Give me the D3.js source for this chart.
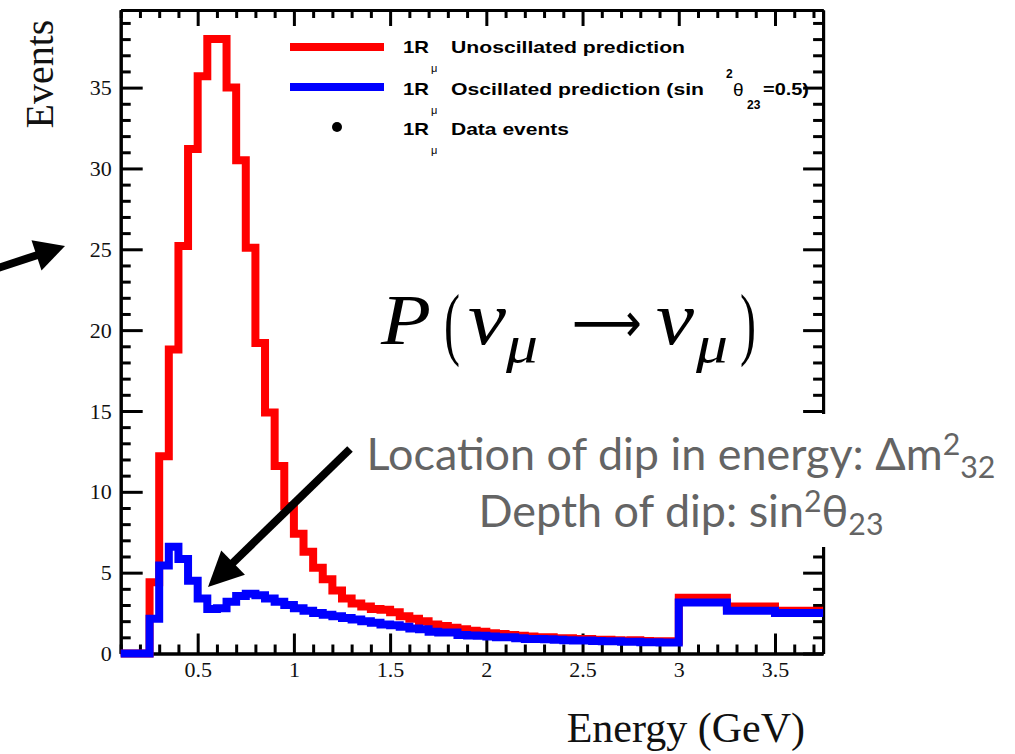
<!DOCTYPE html>
<html><head><meta charset="utf-8">
<script src="https://cdn.jsdelivr.net/npm/d3@7"></script>
<style>html,body{margin:0;padding:0;background:#fff;} svg{display:block;}</style>
</head><body>
<svg id="c" width="1015" height="754"></svg>
<script>
// ---------------- data ----------------
const binLowEdges = [0.10,0.15,0.20,0.25,0.30,0.35,0.40,0.45,0.50,0.55,0.60,0.65,0.70,0.75,0.80,0.85,0.90,0.95,
  1.00,1.05,1.10,1.15,1.20,1.25,1.30,1.35,1.40,1.45,1.50,1.55,1.60,1.65,1.70,1.75,1.80,1.85,1.90,1.95,
  2.00,2.05,2.10,2.15,2.20,2.25,2.30,2.35,2.40,2.45,2.50,2.55,2.60,2.65,2.70,2.75,2.80,2.85,2.90,2.95,
  3.00,3.25,3.50];
const binHighEdge = 3.75;
const unoscillated = [0,0,0,4.4,12.2,18.8,25.2,31.2,35.7,38.0,38.0,35.0,30.5,25.1,19.2,14.9,11.6,9.1,
  7.4,6.3,5.3,4.6,3.9,3.4,3.1,2.9,2.75,2.7,2.55,2.3,2.15,2.0,1.8,1.7,1.6,1.5,1.4,1.35,
  1.25,1.2,1.15,1.1,1.05,1.0,1.0,0.95,0.95,0.9,0.9,0.85,0.85,0.82,0.8,0.82,0.78,0.76,0.75,0.75,
  3.45,2.9,2.65];
const oscillated = [0,0,0,2.15,5.45,6.6,5.85,4.5,3.4,2.75,2.8,3.2,3.55,3.7,3.6,3.4,3.2,3.0,
  2.8,2.65,2.5,2.4,2.3,2.2,2.1,2.0,1.9,1.8,1.75,1.65,1.55,1.5,1.35,1.3,1.3,1.15,1.12,1.1,
  1.05,1.0,1.0,0.95,0.9,0.9,0.88,0.85,0.82,0.8,0.8,0.78,0.75,0.75,0.72,0.72,0.7,0.7,0.68,0.68,
  3.15,2.65,2.5];
const xTickValues = [0.5,1,1.5,2,2.5,3,3.5];
const xTickLabels = ["0.5","1","1.5","2","2.5","3","3.5"];
const yTickValues = [0,5,10,15,20,25,30,35];
const yTickLabels = ["0","5","10","15","20","25","30","35"];
const legendLabels = ["Unoscillated prediction","Oscillated prediction (sin","Data events"];

// ---------------- layout ----------------
const svg = d3.select("#c");
const X0 = 120.7, X1 = 823.1, Y0 = 653.5, Y1 = 10;
const x = d3.scaleLinear().domain([0.1, 3.75]).range([X0, X1]);
const y = d3.scaleLinear().domain([0, 39.8]).range([Y0, Y1]);
const serif = "'Liberation Serif','Times New Roman',serif";
const sans = "'Liberation Sans',Arial,Helvetica,sans-serif";

function styleAxis(g){
  g.selectAll("path,line").attr("stroke","#000").attr("stroke-width",3);
  g.selectAll("text").attr("font-family",serif).attr("font-size",22).attr("fill","#111");
}
const xMinor = x.ticks(40).filter(v => !xTickValues.some(m => Math.abs(m - v) < 1e-6));
const yMinor = y.ticks(40).filter(v => v % 5 !== 0);

// bottom
svg.append("g").attr("transform",`translate(0,${Y0})`)
  .call(d3.axisBottom(x).tickValues(xMinor).tickSize(-9).tickSizeOuter(0).tickFormat(""))
  .call(styleAxis);
svg.append("g").attr("transform",`translate(0,${Y0})`)
  .call(d3.axisBottom(x).tickValues(xTickValues).tickSize(-20).tickSizeOuter(0).tickPadding(8)
    .tickFormat((d,i)=>xTickLabels[i]))
  .call(styleAxis);
// top
svg.append("g").attr("transform",`translate(0,${Y1})`)
  .call(d3.axisTop(x).tickValues(xMinor).tickSize(-8).tickSizeOuter(0).tickFormat(""))
  .call(styleAxis);
svg.append("g").attr("transform",`translate(0,${Y1})`)
  .call(d3.axisTop(x).tickValues(xTickValues).tickSize(-16).tickSizeOuter(0).tickFormat(""))
  .call(styleAxis);
// left
svg.append("g").attr("transform",`translate(${X0},0)`)
  .call(d3.axisLeft(y).tickValues(yMinor).tickSize(-10).tickSizeOuter(0).tickFormat(""))
  .call(styleAxis);
svg.append("g").attr("transform",`translate(${X0},0)`)
  .call(d3.axisLeft(y).tickValues(yTickValues).tickSize(-22).tickSizeOuter(0).tickPadding(9)
    .tickFormat((d,i)=>yTickLabels[i]))
  .call(styleAxis);
// right
svg.append("g").attr("transform",`translate(${X1},0)`)
  .call(d3.axisRight(y).tickValues(yMinor).tickSize(-10).tickSizeOuter(0).tickFormat(""))
  .call(styleAxis);
svg.append("g").attr("transform",`translate(${X1},0)`)
  .call(d3.axisRight(y).tickValues(yTickValues).tickSize(-20).tickSizeOuter(0).tickFormat(""))
  .call(styleAxis);

// ---------------- histograms ----------------
const line = d3.line().x(d => x(d[0])).y(d => y(d[1])).curve(d3.curveStepAfter);
function pts(vals){
  const p = binLowEdges.map((e,i) => [e, vals[i]]);
  p.push([binHighEdge, vals[vals.length-1]]);
  return p;
}
svg.append("path").attr("d", line(pts(unoscillated)))
  .attr("fill","none").attr("stroke","#ff0000").attr("stroke-width",8).attr("stroke-linejoin","miter");
svg.append("path").attr("d", line(pts(oscillated)))
  .attr("fill","none").attr("stroke","#0000ff").attr("stroke-width",8).attr("stroke-linejoin","miter");

// ---------------- axis titles ----------------
svg.append("text").attr("transform","translate(53,74) rotate(-90)")
  .attr("text-anchor","middle").attr("font-family",serif).attr("font-size",40).attr("fill","#111")
  .text("Events");
svg.append("text").attr("x",805).attr("y",742).attr("text-anchor","end")
  .attr("font-family",serif).attr("font-size",42).attr("fill","#111").text("Energy (GeV)");

// ---------------- legend ----------------
const leg = svg.append("g");
leg.append("line").attr("x1",290).attr("x2",384).attr("y1",47).attr("y2",47)
  .attr("stroke","#ff0000").attr("stroke-width",8);
leg.append("line").attr("x1",290).attr("x2",384).attr("y1",87).attr("y2",87)
  .attr("stroke","#0000ff").attr("stroke-width",8);
leg.append("circle").attr("cx",337).attr("cy",127).attr("r",5).attr("fill","#000");
const rowBase = [53,95,135];
const rowWidth = [234,253,118];
rowBase.forEach((b,i) => {
  leg.append("text").attr("x",403).attr("y",b).attr("font-family",sans).attr("font-weight","bold")
    .attr("font-size",17).attr("textLength",26).attr("lengthAdjust","spacingAndGlyphs").text("1R");
  leg.append("text").attr("x",431).attr("y",b+19).attr("font-family",sans)
    .attr("font-size",11).text("μ");
  leg.append("text").attr("x",451).attr("y",b).attr("font-family",sans).attr("font-weight","bold")
    .attr("font-size",17).attr("textLength",rowWidth[i]).attr("lengthAdjust","spacingAndGlyphs")
    .text(legendLabels[i]);
});
leg.append("text").attr("x",726).attr("y",78).attr("font-family",sans).attr("font-weight","bold")
  .attr("font-size",12).text("2");
leg.append("text").attr("x",733).attr("y",96).attr("font-family",sans)
  .attr("font-size",19).text("θ");
leg.append("text").attr("x",747).attr("y",109).attr("font-family",sans).attr("font-weight","bold")
  .attr("font-size",12).text("23");
leg.append("text").attr("x",763).attr("y",95).attr("font-family",sans).attr("font-weight","bold")
  .attr("font-size",17).attr("textLength",46).attr("lengthAdjust","spacingAndGlyphs").text("=0.5)");

// ---------------- formula ----------------
const fm = svg.append("g").attr("font-family",serif).attr("fill","#000");
function ft(xp, yp, size, txt, italic, len, fam){
  const t = fm.append("text").attr("x",xp).attr("y",yp).attr("font-size",size).text(txt);
  if (italic) t.attr("font-style","italic");
  if (len) t.attr("textLength",len).attr("lengthAdjust","spacingAndGlyphs");
  if (fam) t.attr("font-family",fam);
  return t;
}
ft(381, 344, 72, "P", true, 50);
ft(444, 350, 80, "(", false, 16);
ft(468, 344, 76, "ν", true, 38);
ft(506, 362, 52, "μ", true, 32);
ft(572, 342, 56, "⟶", false, 70, "'DejaVu Sans',sans-serif");
ft(656, 344, 76, "ν", true, 38);
ft(696, 362, 52, "μ", true, 32);
ft(740, 350, 80, ")", false, 16);

// ---------------- annotation ----------------
svg.append("rect").attr("x",356).attr("y",414).attr("width",659).attr("height",133).attr("fill","#fff");
const gray = "#646464";
const annFont = "Lato,'Open Sans',sans-serif";
function annLine(yb, main, sup1, mid, sub){
  const t = svg.append("text").attr("x",681).attr("y",yb).attr("text-anchor","middle")
    .attr("font-family",annFont).attr("font-size",40).attr("fill",gray);
  t.append("tspan").text(main);
  t.append("tspan").attr("font-size",27).attr("dy",-15).text(sup1);
  if (mid) t.append("tspan").attr("dy",15).text(mid);
  t.append("tspan").attr("font-size",27).attr("dy", mid ? 8 : 23).text(sub);
  return t;
}
const a1 = annLine(470, "Location of dip in energy: Δm", "2", null, "32");
const a2 = annLine(527, "Depth of dip: sin", "2", "θ", "23");
const w1 = a1.node().getComputedTextLength();
const k = 629 / w1;
[a1,a2].forEach(t => {
  t.attr("font-size", 40*k);
  t.selectAll("tspan").each(function(){
    const s = d3.select(this);
    if (s.attr("font-size")) s.attr("font-size", 27*k);
  });
});

// ---------------- arrows ----------------
function arrow(x1,y1,x2,y2,len,half){
  const dx = x2-x1, dy = y2-y1, L = Math.hypot(dx,dy), ux = dx/L, uy = dy/L;
  const bx = x2 - ux*len, by = y2 - uy*len;
  svg.append("line").attr("x1",x1).attr("y1",y1).attr("x2",bx+ux*2).attr("y2",by+uy*2)
    .attr("stroke","#000").attr("stroke-width",8);
  svg.append("path").attr("d",`M${x2},${y2}L${bx-uy*half},${by+ux*half}L${bx+uy*half},${by-ux*half}Z`)
    .attr("fill","#000");
}
arrow(350,449,208,587,35,17);
arrow(-2,268,65,246,30,16);
</script>
</body></html>
